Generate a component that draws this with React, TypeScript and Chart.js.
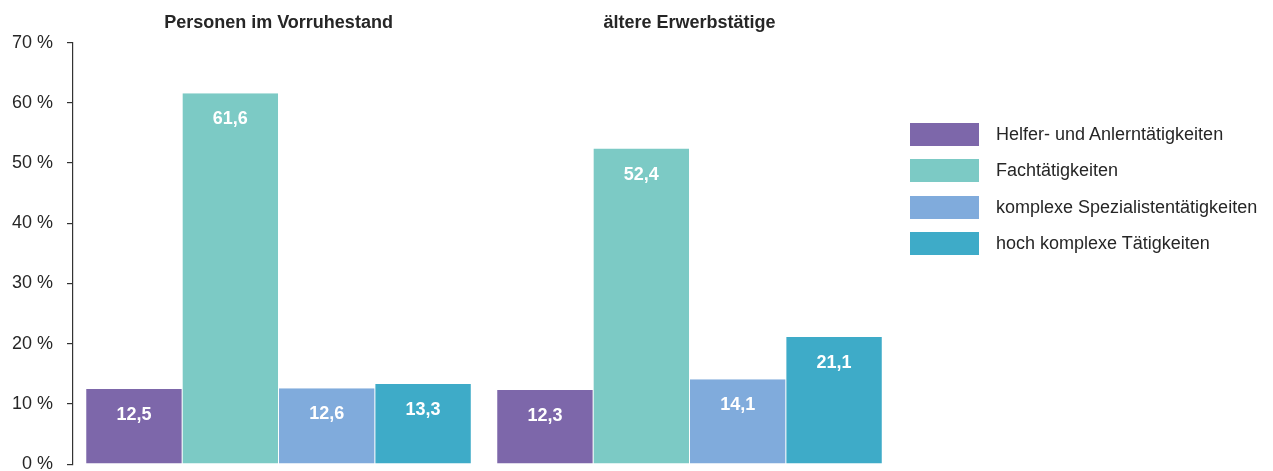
import React, { useEffect, useRef } from "react";
import { Chart, registerables } from "chart.js";

Chart.register(...registerables);

const categories = ["Personen im Vorruhestand", "ältere Erwerbstätige"];
const seriesNames = [
  "Helfer- und Anlerntätigkeiten",
  "Fachtätigkeiten",
  "komplexe Spezialistentätigkeiten",
  "hoch komplexe Tätigkeiten",
];
const helferValues = [12.5, 12.3];
const fachValues = [61.6, 52.4];
const spezialistValues = [12.6, 14.1];
const expertenValues = [13.3, 21.1];
const seriesColors = ["#7d67aa", "#7ccac5", "#80abdc", "#3eabc8"];
const yTicks = [0, 10, 20, 30, 40, 50, 60, 70];

const FONT = "'Liberation Sans', Arial, Helvetica, sans-serif";
const TEXT = "#262626";

const valueLabels = {
  id: "valueLabels",
  afterDatasetsDraw(chart: any) {
    const ctx = chart.ctx;
    ctx.save();
    ctx.fillStyle = "#ffffff";
    ctx.font = `bold 18px ${FONT}`;
    ctx.textAlign = "center";
    ctx.textBaseline = "middle";
    chart.data.datasets.forEach((ds: any, i: number) => {
      const meta = chart.getDatasetMeta(i);
      meta.data.forEach((el: any, j: number) => {
        const v = ds.data[j] as number;
        ctx.fillText(v.toFixed(1).replace(".", ","), el.x, el.y + 26);
      });
    });
    ctx.restore();
  },
};

export default function App() {
  const ref = useRef<HTMLCanvasElement | null>(null);

  useEffect(() => {
    if (!ref.current) return;
    const allSeries = [helferValues, fachValues, spezialistValues, expertenValues];
    const chart = new Chart(ref.current, {
      type: "bar",
      data: {
        labels: categories,
        datasets: allSeries.map((d, i) => ({
          label: seriesNames[i],
          data: d,
          backgroundColor: seriesColors[i],
          borderColor: "#ffffff",
          borderWidth: { left: 0.5, right: 0.5, top: 0, bottom: 0 },
          borderSkipped: false,
          barPercentage: 1,
          categoryPercentage: 0.938,
        })),
      },
      options: {
        animation: false,
        responsive: false,
        maintainAspectRatio: false,
        layout: { padding: { left: 4, right: 370, top: 4, bottom: 4 } },
        plugins: {
          legend: { display: false },
          tooltip: { enabled: false },
        },
        scales: {
          x: {
            position: "top",
            grid: { display: false, drawTicks: false },
            border: { display: false },
            afterFit: (axis: any) => {
              axis.height -= 9;
            },
            ticks: {
              padding: 9,
              color: TEXT,
              font: { family: FONT, size: 18, weight: "bold" },
            },
          },
          y: {
            min: 0,
            max: 70,
            afterBuildTicks: (axis: any) => {
              axis.ticks = yTicks.map((v) => ({ value: v }));
            },
            afterFit: (axis: any) => {
              axis.width -= 14;
            },
            grid: {
              display: true,
              drawOnChartArea: false,
              drawTicks: true,
              tickLength: 6,
              color: "#333333",
              lineWidth: 1.2,
            },
            border: { display: true, color: "#333333", width: 1.2 },
            ticks: {
              padding: 14,
              color: TEXT,
              font: { family: FONT, size: 18 },
              callback: (v: any) => `${v} %`,
            },
          },
        },
      },
      plugins: [valueLabels],
    });
    return () => chart.destroy();
  }, []);

  return (
    <div style={{ position: "relative", width: 1257, height: 481 }}>
      <canvas ref={ref} width={1257} height={481} style={{ display: "block" }} />
      <div style={{ position: "absolute", left: 902, top: 115, fontFamily: FONT, fontSize: 18, color: TEXT }}>
        {seriesNames.map((n, i) => (
          <div key={n} style={{ display: "flex", alignItems: "center", height: 23, marginBottom: 13.4 }}>
            <div style={{ width: 69, height: 23, background: seriesColors[i], marginRight: 17 }} />
            <span style={{ whiteSpace: "nowrap" }}>{n}</span>
          </div>
        ))}
      </div>
    </div>
  );
}
